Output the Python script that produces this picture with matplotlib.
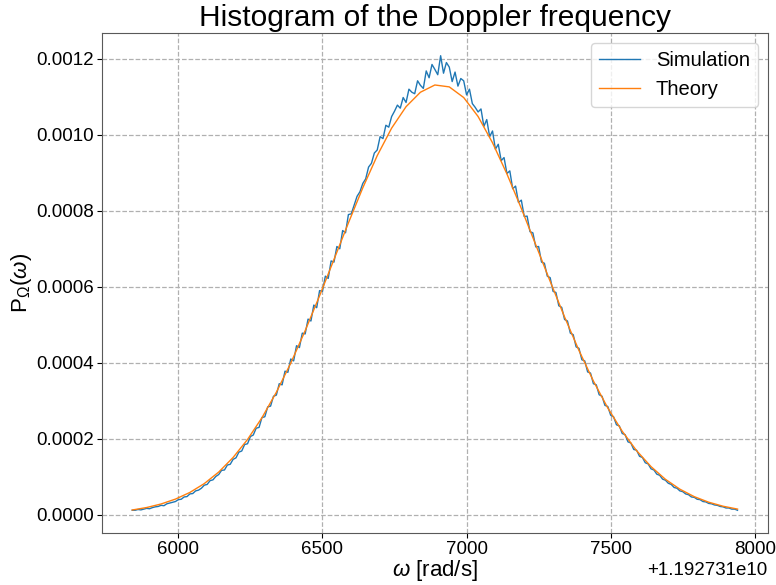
import matplotlib.pyplot as plt
import numpy as np

plt.rcParams['font.family'] = ['Liberation Sans', 'DejaVu Sans']
plt.rcParams['mathtext.fontset'] = 'custom'
plt.rcParams['mathtext.rm'] = 'Liberation Sans'
plt.rcParams['mathtext.it'] = 'Liberation Sans:italic'

# offset of the frequency axis [rad/s]
w0 = 1.192731e10

# simulated histogram (bin centres relative to w0, density in 1e-6 units)
sim_w = np.arange(5840, 7941, 10)
sim_p = [12, 12, 14, 13, 15, 17, 16, 19, 21, 22,
         25, 24, 29, 31, 33, 35, 40, 41, 47, 48,
         55, 56, 63, 65, 70, 78, 80, 90, 92, 101,
         106, 117, 118, 131, 133, 146, 150, 165, 168, 185,
         187, 206, 210, 228, 230, 256, 258, 284, 286, 312,
         315, 345, 342, 378, 375, 410, 405, 445, 440, 478,
         476, 515, 510, 552, 545, 590, 588, 628, 622, 668,
         665, 706, 700, 748, 742, 790, 792, 815, 838, 850,
         872, 884, 915, 925, 952, 960, 995, 990, 1025, 1020,
         1048, 1062, 1078, 1070, 1098, 1085, 1120, 1112, 1108, 1142,
         1130, 1122, 1168, 1150, 1185, 1172, 1158, 1208, 1162, 1190,
         1178, 1140, 1165, 1128, 1148, 1142, 1105, 1120, 1082, 1072,
         1060, 1068, 1022, 1040, 995, 1010, 962, 975, 932, 940,
         898, 905, 858, 865, 822, 828, 785, 786, 745, 742,
         705, 706, 665, 662, 628, 624, 588, 585, 550, 546,
         514, 510, 478, 474, 442, 438, 408, 405, 376, 373,
         345, 342, 316, 312, 288, 285, 262, 258, 237, 234,
         214, 211, 192, 189, 172, 170, 154, 151, 137, 134,
         121, 118, 107, 104, 94, 91, 83, 80, 72, 70,
         63, 61, 55, 53, 47, 46, 41, 40, 35, 34,
         30, 29, 26, 25, 22, 21, 18, 18, 15, 15,
         12]

# theoretical density
th_w = np.arange(5840, 7941, 50)
th_p = [12.7, 19.2, 28.5, 41.4, 58.9, 82.2, 112.5, 150.9, 198.2, 255.4,
        322.5, 399.2, 484.5, 576.3, 672.0, 768.1, 860.6, 945.1, 1017.5, 1073.9,
        1112.0, 1131.0, 1126.0, 1098.0, 1048.0, 979.0, 897.0, 806.0, 710.6, 614.3,
        520.6, 432.4, 352.1, 281.1, 219.9, 168.6, 126.8, 93.4, 67.5, 47.8,
        33.2, 22.6, 15.1]

fig = plt.figure(figsize=(7.76, 5.85), dpi=100)
ax = fig.add_axes([0.1314, 0.0889, 0.8580, 0.8547])

ax.plot(w0 + sim_w, np.array(sim_p) * 1e-6, color='#1f77b4', lw=1.0, label='Simulation')
ax.plot(w0 + th_w, np.array(th_p) * 1e-6, color='#ff7f0e', lw=1.0, label='Theory')

ax.set_title('Histogram of the Doppler frequency', fontsize=21.5, pad=5)
ax.set_xlabel(r'$\omega$ [rad/s]', fontsize=16, labelpad=0)
ax.set_ylabel(r'P$_\Omega$($\omega$)', fontsize=16, labelpad=1)
ax.tick_params(labelsize=13.5, length=3.5, pad=2.5)
ax.xaxis.get_offset_text().set_fontsize(13.5)
ax.grid(True, ls='--', color='#b0b0b0', lw=0.9)
for s in ax.spines.values():
    s.set_color('0.35')
ax.legend(loc='upper right', fontsize=14.5)

fig.savefig('out.png', dpi=100)
